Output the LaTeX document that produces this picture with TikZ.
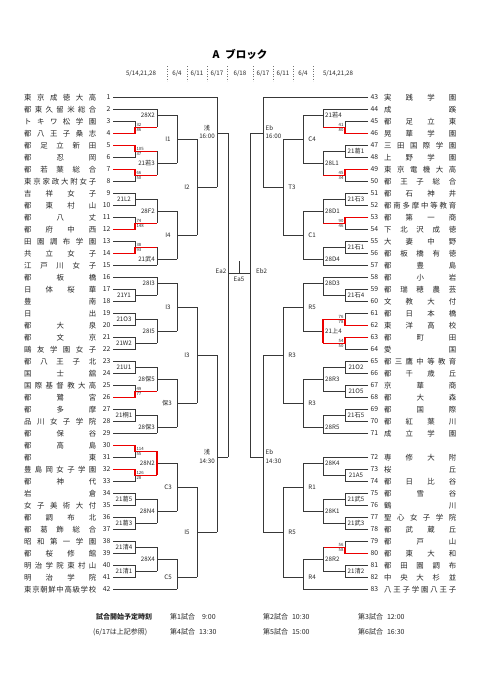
\documentclass[tikz,border=0pt]{standalone}
\usepackage{fontspec}
\setmainfont{Noto Sans CJK JP}
\usetikzlibrary{calc}
\def\myspreadloop#1#2\relax{#1\ifx\relax#2\relax\else\hfill\myspreadloop#2\relax\fi}
\newcommand\spreadname[1]{\makebox[72pt][s]{\expandafter\myspreadloop#1\relax}}
% left first-round match: top team, bottom team, winner flag (0 none, 1 top, 2 bottom)
\newcommand\LM[3]{%
 \edef\ya{\fpeval{97.3+12*(#1-1)}}\edef\yb{\fpeval{\ya+12}}\edef\ym{\fpeval{\ya+6}}%
 \draw[ln] (L#1) -- (135,\ya) -- (135,\yb) -- (L#2);
 \draw[ln] (135,\ym) -- (157,\ym);
 \ifcase#3\or\draw[rd] (L#1) -- (135,\ya) -- (135,\ym) -- (157,\ym);\or\draw[rd] (L#2) -- (135,\yb) -- (135,\ym) -- (157,\ym);\fi}
% right first-round match: top team, bottom team, row of top, flag
\newcommand\RM[4]{%
 \edef\ya{\fpeval{97.3+12*(#3)}}\edef\yb{\fpeval{\ya+12}}\edef\ym{\fpeval{\ya+6}}%
 \draw[ln] (R#1) -- (345,\ya) -- (345,\yb) -- (R#2);
 \draw[ln] (345,\ym) -- (323,\ym);
 \ifcase#4\or\draw[rd] (R#1) -- (345,\ya) -- (345,\ym) -- (323,\ym);\or\draw[rd] (R#2) -- (345,\yb) -- (345,\ym) -- (323,\ym);\fi}
% scores: name, y of output, top score, bottom score ; left / right
\newcommand\LS[4]{\node[sc,anchor=west] (#1a) at (136.3,\fpeval{#2-2.7}) {#3};\node[sc,anchor=west] (#1b) at (136.3,\fpeval{#2+2.7}) {#4};}
\newcommand\RS[4]{\node[sc,anchor=east] (#1a) at (343.7,\fpeval{#2-2.7}) {#3};\node[sc,anchor=east] (#1b) at (343.7,\fpeval{#2+2.7}) {#4};}
% bracket: x, y1, y2, yout, xout
\newcommand\BR[5]{\draw[ln] (#1,#2) -- (#1,#3) (#1,#4) -- (#5,#4);}
\begin{document}
\begin{tikzpicture}[x=1pt,y=-1pt,
 ln/.style={draw=black!78, line width=0.65pt},
 rd/.style={draw=red!92!black, line width=1.4pt},
 nm/.style={font=\fontsize{7.4}{8}\selectfont, inner sep=0pt, text=black!85},
 num/.style={font=\fontsize{6.8}{8}\selectfont, inner sep=0pt, text=black!85},
 lab/.style={font=\fontsize{6.2}{7}\selectfont, inner sep=0pt, text=black!85},
 sc/.style={font=\fontsize{4.3}{4.5}\selectfont, inner sep=0pt, text=black!85},
 dt/.style={font=\fontsize{6.2}{7}\selectfont, inner sep=0pt, text=black!85},
 ft/.style={font=\fontsize{7}{8}\selectfont, inner sep=0pt, text=black!85, anchor=west},
 sep/.style={draw=black!55, line width=0.5pt, dotted}]
\useasboundingbox (0,0) rectangle (481,680);
\fill[white] (0,0) rectangle (481,680);
% title and dates
\node[font=\fontsize{10.5}{12}\selectfont\bfseries, inner sep=0pt] (title) at (240,54) {A\hspace{6pt}ブロック};
\node[dt] (d1) at (141,74) {5/14,21,28};
\node[dt] (d2) at (177,74) {6/4};
\node[dt] (d3) at (197,74) {6/11};
\node[dt] (d4) at (217,74) {6/17};
\node[dt] (d5) at (240,74) {6/18};
\node[dt] (d6) at (263,74) {6/17};
\node[dt] (d7) at (283,74) {6/11};
\node[dt] (d8) at (303,74) {6/4};
\node[dt] (d9) at (338,74) {5/14,21,28};
\foreach \sx in {167,187,207,227,253,273,293,313} \draw[sep] (\sx,66) -- (\sx,81);
% left teams
\foreach \n/\nm in {1/東京成徳大高,2/都東久留米総合,3/トキワ松学園,4/都八王子桑志,5/都足立新田,6/都忍岡,7/都若葉総合,8/東京家政大附女子,9/吉祥女子,10/都東村山,11/都八丈,12/都府中西,13/田園調布学園,14/共立女子,15/江戸川女子,16/都板橋,17/日体桜華,18/豊南,19/日出,20/都大泉,21/都文京,22/鷗友学園女子,23/都八王子北,24/国士舘,25/国際基督教大高,26/都鷺宮,27/都多摩,28/品川女子学院,29/都保谷,30/都高島,31/都東,32/豊島岡女子学園,33/都神代,34/岩倉,35/女子美術大付,36/都調布北,37/都葛飾総合,38/昭和第一学園,39/都桜修館,40/明治学院東村山,41/明治学院,42/東京朝鮮中高級学校}{
 \pgfmathsetmacro\yy{97.3+12*(\n-1)}
 \node[nm,anchor=west] (ln\n) at (24,\yy) {\spreadname{\nm}};
 \node[num,anchor=east] (lno\n) at (110.5,\yy) {\n};
 \coordinate (L\n) at (113,\yy);
}
% right teams
\foreach \n/\r/\nm in {43/0/実践学園,44/1/成蹊,45/2/都足立東,46/3/晃華学園,47/4/三田国際学園,48/5/上野学園,49/6/東京電機大高,50/7/都王子総合,51/8/都石神井,52/9/都南多摩中等教育,53/10/都第一商,54/11/下北沢成徳,55/12/大妻中野,56/13/都板橋有徳,57/14/都豊島,58/15/都小岩,59/16/都瑞穂農芸,60/17/文教大付,61/18/都日本橋,62/19/東洋高校,63/20/都町田,64/21/愛国,65/22/都三鷹中等教育,66/23/都千歳丘,67/24/京華商,68/25/都大森,69/26/都国際,70/27/都紅葉川,71/28/成立学園,72/30/専修大附,73/31/桜丘,74/32/都日比谷,75/33/都雪谷,76/34/鶴川,77/35/聖心女子学院,78/36/都武蔵丘,79/37/都戸山,80/38/都東大和,81/39/都田園調布,82/40/中央大杉並,83/41/八王子学園八王子}{
 \pgfmathsetmacro\yy{97.3+12*\r}
 \node[num,anchor=west] (rno\n) at (370.5,\yy) {\n};
 \node[nm,anchor=west] (rn\n) at (384,\yy) {\spreadname{\nm}};
 \coordinate (R\n) at (368,\yy);
}
% ---------- left bracket ----------
\draw[ln] (L1) -- (217,97.3);
\draw[ln] (L2) -- (157,109.3);
\draw[ln] (L15) -- (157,265.3);
\draw[ln] (L16) -- (157,277.3);
\draw[ln] (L29) -- (157,433.3);
\draw[ln] (L42) -- (177,589.3);
\LM{3}{4}{2}\LM{5}{6}{1}\LM{7}{8}{1}\LM{9}{10}{0}\LM{11}{12}{2}\LM{13}{14}{2}
\LM{17}{18}{0}\LM{19}{20}{0}\LM{21}{22}{0}\LM{23}{24}{0}\LM{25}{26}{2}\LM{27}{28}{0}
\LM{30}{31}{1}\LM{32}{33}{1}\LM{34}{35}{0}\LM{36}{37}{0}\LM{38}{39}{0}\LM{40}{41}{0}
\LS{s3}{127.3}{32}{86}\LS{s5}{151.3}{105}{37}\LS{s7}{175.3}{66}{50}\LS{s11}{223.3}{74}{148}
\LS{s13}{247.3}{38}{93}\LS{s25}{391.3}{49}{77}\LS{s30}{451.3}{114}{55}\LS{s32}{475.3}{126}{28}
\node[lab] (b9) at (124,199.3) {21L2};
\node[lab] (b17) at (124,295.3) {21Y1};
\node[lab] (b19) at (124,319.3) {21O3};
\node[lab] (b21) at (124,343.3) {21W2};
\node[lab] (b23) at (124,367.3) {21U1};
\node[lab] (b27) at (124,415.3) {21桐1};
\node[lab] (b34) at (124,499.3) {21葛5};
\node[lab] (b36) at (124,523.3) {21葛3};
\node[lab] (b38) at (124,547.3) {21清4};
\node[lab] (b40) at (124,571.3) {21清1};
% round 2 left
\BR{157}{109.3}{127.3}{115.3}{177}\node[lab,anchor=east] (x1) at (155,115.3) {28X2};
\BR{157}{151.3}{175.3}{163.3}{177}\node[lab,anchor=east] (x2) at (155,163.3) {21若3};
\BR{157}{199.3}{223.3}{211.3}{177}\node[lab,anchor=east] (x3) at (155,211.3) {28F2};
\BR{157}{247.3}{265.3}{259.3}{177}\node[lab,anchor=east] (x4) at (155,259.3) {21武4};
\BR{157}{277.3}{295.3}{283.3}{177}\node[lab,anchor=east] (x5) at (155,283.3) {28I3};
\BR{157}{319.3}{343.3}{331.3}{177}\node[lab,anchor=east] (x6) at (155,331.3) {28I5};
\BR{157}{367.3}{391.3}{379.3}{177}\node[lab,anchor=east] (x7) at (155,379.3) {28保5};
\BR{157}{415.3}{433.3}{427.3}{177}\node[lab,anchor=east] (x8) at (155,427.3) {28保3};
\BR{157}{451.3}{475.3}{463.3}{177}\draw[rd] (157,451.3) -- (157,475.3);
\node[lab,anchor=east] (x9) at (155,463.3) {28N2};
\BR{157}{499.3}{523.3}{511.3}{177}\node[lab,anchor=east] (x10) at (155,511.3) {28N4};
\BR{157}{547.3}{571.3}{559.3}{177}\node[lab,anchor=east] (x11) at (155,559.3) {28X4};
% round 3 left
\BR{177}{115.3}{163.3}{139.3}{197}\node[lab] (y1) at (168,139.3) {I1};
\BR{177}{211.3}{259.3}{235.3}{197}\node[lab] (y2) at (168,235.3) {I4};
\BR{177}{283.3}{331.3}{307.3}{197}\node[lab] (y3) at (168,307.3) {I3};
\BR{177}{379.3}{427.3}{403.3}{197}\node[lab] (y4) at (167,403.3) {保3};
\BR{177}{463.3}{511.3}{487.3}{197}\node[lab] (y5) at (168,487.3) {C3};
\BR{177}{559.3}{589.3}{577.3}{197}\node[lab] (y6) at (168,577.3) {C5};
% round 4 left
\BR{197}{139.3}{235.3}{187.3}{217}\node[lab] (z1) at (187,187.3) {I2};
\BR{197}{307.3}{403.3}{355.3}{217}\node[lab] (z2) at (187,355.3) {I3};
\BR{197}{487.3}{577.3}{532.3}{217}\node[lab] (z3) at (187,532.3) {I5};
% round 5 left
\BR{217}{97.3}{187.3}{133.3}{228}
\node[lab] (w1) at (207,128) {浅};\node[lab] (w2) at (207,136.5) {16:00};
\BR{217}{355.3}{532.3}{457.3}{228}
\node[lab] (w3) at (207,452.5) {浅};\node[lab] (w4) at (207,461) {14:30};
\draw[ln] (228,133.3) -- (228,457.3);
% ---------- right bracket ----------
\draw[ln] (R43) -- (263,97.3);
\draw[ln] (R44) -- (323,109.3);
\draw[ln] (R57) -- (323,265.3);
\draw[ln] (R58) -- (323,277.3);
\draw[ln] (R71) -- (323,433.3);
\draw[ln] (R72) -- (323,457.3);
\draw[ln] (R83) -- (303,589.3);
\RM{45}{46}{2}{2}\RM{47}{48}{4}{0}\RM{49}{50}{6}{1}\RM{51}{52}{8}{0}\RM{53}{54}{10}{1}\RM{55}{56}{12}{0}
\RM{59}{60}{16}{0}\RM{61}{62}{18}{2}\RM{63}{64}{20}{1}\RM{65}{66}{22}{0}\RM{67}{68}{24}{0}\RM{69}{70}{26}{0}
\RM{73}{74}{31}{0}\RM{75}{76}{33}{0}\RM{77}{78}{35}{0}\RM{79}{80}{37}{2}\RM{81}{82}{39}{0}
\RS{s45}{127.3}{41}{80}\RS{s49}{175.3}{45}{34}\RS{s53}{223.3}{90}{46}\RS{s61}{319.3}{76}{78}
\RS{s63}{343.3}{54}{50}\RS{s79}{547.3}{56}{58}
\node[lab] (c47) at (356,151.3) {21葛1};
\node[lab] (c51) at (356,199.3) {21石3};
\node[lab] (c55) at (356,247.3) {21石1};
\node[lab] (c59) at (356,295.3) {21石4};
\node[lab] (c65) at (356,367.3) {21O2};
\node[lab] (c67) at (356,391.3) {21O5};
\node[lab] (c69) at (356,415.3) {21石5};
\node[lab] (c73) at (356,475.3) {21A5};
\node[lab] (c75) at (356,499.3) {21武5};
\node[lab] (c77) at (356,523.3) {21武3};
\node[lab] (c81) at (356,571.3) {21清2};
% round 2 right
\BR{323}{109.3}{127.3}{115.3}{303}\node[lab,anchor=west] (u1) at (325,115.3) {21若4};
\BR{323}{151.3}{175.3}{163.3}{303}\node[lab,anchor=west] (u2) at (325,163.3) {28L1};
\BR{323}{199.3}{223.3}{211.3}{303}\node[lab,anchor=west] (u3) at (325,211.3) {28D1};
\BR{323}{247.3}{265.3}{259.3}{303}\node[lab,anchor=west] (u4) at (325,259.3) {28D4};
\BR{323}{277.3}{295.3}{283.3}{303}\node[lab,anchor=west] (u5) at (325,283.3) {28D3};
\BR{323}{319.3}{343.3}{331.3}{303}\draw[rd] (323,319.3) -- (323,343.3);
\node[lab,anchor=west] (u6) at (325,331.3) {21上4};
\BR{323}{367.3}{391.3}{379.3}{303}\node[lab,anchor=west] (u7) at (325,379.3) {28R3};
\BR{323}{415.3}{433.3}{427.3}{303}\node[lab,anchor=west] (u8) at (325,427.3) {28R5};
\BR{323}{457.3}{475.3}{463.3}{303}\node[lab,anchor=west] (u9) at (325,463.3) {28K4};
\BR{323}{499.3}{523.3}{511.3}{303}\node[lab,anchor=west] (u10) at (325,511.3) {28K1};
\BR{323}{547.3}{571.3}{559.3}{303}\node[lab,anchor=west] (u11) at (325,559.3) {28R2};
% round 3 right
\BR{303}{115.3}{163.3}{139.3}{283}\node[lab] (v1) at (312,139.3) {C4};
\BR{303}{211.3}{259.3}{235.3}{283}\node[lab] (v2) at (312,235.3) {C1};
\BR{303}{283.3}{331.3}{307.3}{283}\node[lab] (v3) at (312,307.3) {R5};
\BR{303}{379.3}{427.3}{403.3}{283}\node[lab] (v4) at (312,403.3) {R3};
\BR{303}{463.3}{511.3}{487.3}{283}\node[lab] (v5) at (312,487.3) {R1};
\BR{303}{559.3}{589.3}{577.3}{283}\node[lab] (v6) at (312,577.3) {R4};
% round 4 right
\BR{283}{139.3}{235.3}{187.3}{263}\node[lab] (t1) at (292,187.3) {T3};
\BR{283}{307.3}{403.3}{355.3}{263}\node[lab] (t2) at (292,355.3) {R3};
\BR{283}{487.3}{577.3}{532.3}{263}\node[lab] (t3) at (292,532.3) {R5};
% round 5 right
\BR{263}{97.3}{187.3}{133.3}{250}
\node[lab,anchor=west] (q1) at (265.5,128) {Eb};\node[lab,anchor=west] (q2) at (265.5,136.5) {16:00};
\BR{263}{355.3}{532.3}{457.3}{250}
\node[lab,anchor=west] (q3) at (265.5,452.5) {Eb};\node[lab,anchor=west] (q4) at (265.5,461) {14:30};
\draw[ln] (250,133.3) -- (250,457.3);
% final
\draw[ln] (228,273) -- (250,273) (239,273) -- (239,261);
\node[lab] (fin) at (239,279) {Ea5};
\node[lab,anchor=east] (ea2) at (226.5,271) {Ea2};
\node[lab,anchor=west] (eb2) at (256,271) {Eb2};
% footer
\node[ft,font=\fontsize{7}{8}\selectfont\bfseries] (f1) at (96,617) {試合開始予定時刻};
\node[ft] (f2) at (170,617) {第1試合\hspace{7pt}9:00};
\node[ft] (f3) at (263,617) {第2試合\hspace{4pt}10:30};
\node[ft] (f4) at (358,617) {第3試合\hspace{4pt}12:00};
\node[ft] (f5) at (93,632) {(6/17は上記参照)};
\node[ft] (f6) at (170,632) {第4試合\hspace{4pt}13:30};
\node[ft] (f7) at (263,632) {第5試合\hspace{4pt}15:00};
\node[ft] (f8) at (358,632) {第6試合\hspace{4pt}16:30};
\end{tikzpicture}
\end{document}
